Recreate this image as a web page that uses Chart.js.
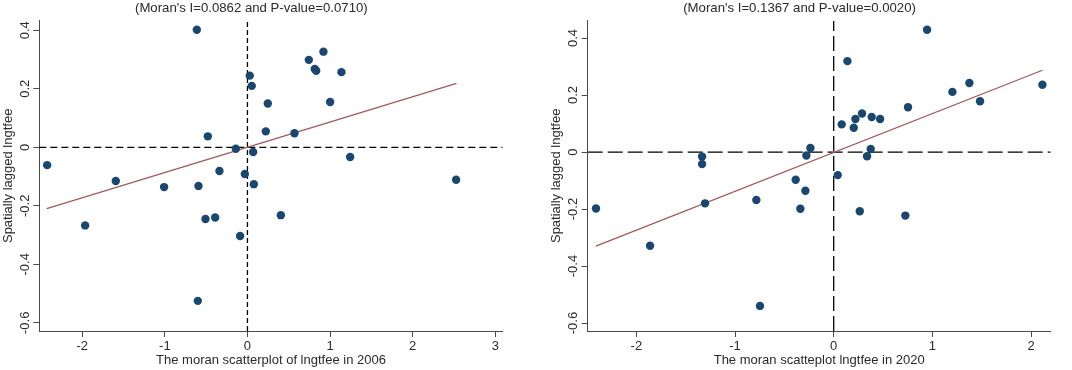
<!DOCTYPE html>
<html>
<head>
<meta charset="utf-8">
<script src="https://cdn.jsdelivr.net/npm/chart.js@4/dist/chart.umd.min.js"></script>
<style>
  html, body { margin: 0; padding: 0; background: #fff; }
  #wrap { position: relative; width: 1072px; height: 370px; }
  .box { position: absolute; top: 0; width: 536px; height: 370px; }
  #b1 { left: 0; }
  #b2 { left: 536px; }
</style>
</head>
<body>
<div id="wrap">
  <div class="box" id="b1"><canvas id="c1" width="536" height="370"></canvas></div>
  <div class="box" id="b2"><canvas id="c2" width="536" height="370"></canvas></div>
</div>
<script>
// ---------- Data: 2006 ----------
const x2006 = [-0.613, -2.425, -1.965, -1.594, -1.009, -0.593, -0.601, -0.508, -0.391, -0.480,
               -0.339, -0.141, -0.089, -0.032, 0.028, 0.052, 0.069, 0.077, 0.246, 0.222,
               0.404, 0.569, 0.743, 0.815, 0.832, 0.920, 1.001, 1.138, 1.243, 2.526];
const y2006 = [0.402, -0.061, -0.267, -0.115, -0.136, -0.132, -0.525, -0.245, -0.240, 0.0375,
               -0.081, -0.005, -0.303, -0.091, 0.245, 0.210, -0.016, -0.126, 0.150, 0.0545,
               -0.232, 0.048, 0.299, 0.268, 0.262, 0.327, 0.155, 0.257, -0.033, -0.111];
const fitX2006 = [-2.43, 2.53];
const fitY2006 = [-0.210, 0.219];

// ---------- Data: 2020 ----------
const x2020 = [-2.409, -1.861, -1.334, -1.334, -1.304, -0.784, -0.747, -0.385, -0.338, -0.287,
               -0.277, -0.236, 0.041, 0.081, 0.139, 0.203, 0.220, 0.264, 0.287, 0.338,
               0.375, 0.385, 0.470, 0.726, 0.753, 0.946, 1.203, 1.375, 1.483, 2.115];
const y2020 = [-0.198, -0.329, -0.016, -0.042, -0.180, -0.168, -0.540, -0.097, -0.199, -0.136,
               -0.012, 0.014, -0.081, 0.097, 0.319, 0.085, 0.116, -0.208, 0.135, -0.015,
               0.0105, 0.123, 0.116, -0.223, 0.157, 0.429, 0.211, 0.242, 0.178, 0.236];
const fitX2020 = [-2.41, 2.115];
const fitY2020 = [-0.330, 0.287];

// ---------- Text ----------
const title2006 = "(Moran's I=0.0862 and P-value=0.0710)";
const title2020 = "(Moran's I=0.1367 and P-value=0.0020)";
const xTitle2006 = "The moran scatterplot of lngtfee in 2006";
const xTitle2020 = "The moran scatteplot lngtfee in 2020";
const yTitle = "Spatially lagged lngtfee";

// ---------- Axis ranges / ticks ----------
const xRange2006 = [-2.52, 3.09];
const xTicks2006 = [-2, -1, 0, 1, 2, 3];
const xRange2020 = [-2.493, 2.199];
const xTicks2020 = [-2, -1, 0, 1, 2];
const yRange2006 = [-0.628, 0.433];
const yRange2020 = [-0.628, 0.461];
const yTicks = [-0.6, -0.4, -0.2, 0, 0.2, 0.4];

const FONT = "'Liberation Sans', Arial, sans-serif";
const POINT = '#1a476f';
const FIT = '#a0585f';
const TEXT = '#2a2a2a';

function pts(xs, ys) { return xs.map((x, i) => ({x: x, y: ys[i]})); }

function makeChart(id, cfg) {
  const ctx = document.getElementById(id);
  return new Chart(ctx, {
    type: 'scatter',
    data: {
      datasets: [
        {
          data: [{x: cfg.xr[0], y: 0}, {x: cfg.xr[1], y: 0}],
          showLine: true, borderColor: '#000', borderWidth: 1.3,
          borderDash: cfg.dash, pointRadius: 0, order: 3
        },
        {
          data: [{x: 0, y: cfg.yr[0]}, {x: 0, y: cfg.yr[1]}],
          showLine: true, borderColor: '#000', borderWidth: 1.3,
          borderDash: cfg.vdash, pointRadius: 0, order: 3
        },
        {
          data: pts(cfg.fx, cfg.fy),
          showLine: true, borderColor: FIT, borderWidth: 1.3,
          pointRadius: 0, order: 2
        },
        {
          data: pts(cfg.x, cfg.y),
          backgroundColor: POINT, borderColor: POINT, borderWidth: 0,
          pointRadius: 4.2, order: 1
        }
      ]
    },
    options: {
      responsive: false,
      animation: false,
      devicePixelRatio: 1,
      layout: { padding: { left: cfg.padLeft, right: cfg.padRight, top: 0, bottom: 0 } },
      plugins: {
        legend: { display: false },
        tooltip: { enabled: false },
        title: {
          display: true, text: cfg.title, color: TEXT,
          font: { family: FONT, size: 13.2, weight: 'normal', lineHeight: 1.3 },
          padding: { top: 0, bottom: 3.5 }
        }
      },
      scales: {
        x: {
          type: 'linear', min: cfg.xr[0], max: cfg.xr[1],
          afterBuildTicks: (s) => { s.ticks = cfg.xt.map(v => ({value: v})); },
          afterFit: (s) => { s.height = 39; },
          border: { display: true, color: '#4a4a4a', width: 1 },
          grid: { display: true, drawOnChartArea: false, drawTicks: true, tickLength: 6, color: '#4a4a4a' },
          ticks: { color: TEXT, font: { family: FONT, size: 13 }, padding: 2, maxRotation: 0, minRotation: 0,
                   callback: (v) => String(v) },
          title: { display: true, text: cfg.xTitle, color: TEXT,
                   font: { family: FONT, size: 13 }, padding: { top: 0, bottom: 2 } }
        },
        y: {
          type: 'linear', min: cfg.yr[0], max: cfg.yr[1],
          afterBuildTicks: (s) => { s.ticks = yTicks.map(v => ({value: v})); },
          afterFit: (s) => { s.width = cfg.yWidth; },
          border: { display: true, color: '#4a4a4a', width: 1 },
          grid: { display: true, drawOnChartArea: false, drawTicks: true, tickLength: 6, color: '#4a4a4a' },
          ticks: { color: TEXT, font: { family: FONT, size: 13 }, padding: -3,
                   minRotation: 90, maxRotation: 90, crossAlign: 'center',
                   callback: (v) => (v === 0 ? '0' : String(v)) },
          title: { display: true, text: yTitle, color: TEXT,
                   font: { family: FONT, size: 13 }, padding: 0.5 }
        }
      }
    }
  });
}

makeChart('c1', {
  x: x2006, y: y2006, fx: fitX2006, fy: fitY2006,
  xr: xRange2006, yr: yRange2006, xt: xTicks2006,
  title: title2006, xTitle: xTitle2006,
  dash: [7, 4], vdash: [5, 3],
  padLeft: 0, padRight: 33.3, yWidth: 39.3
});
makeChart('c2', {
  x: x2020, y: y2020, fx: fitX2020, fy: fitY2020,
  xr: xRange2020, yr: yRange2020, xt: xTicks2020,
  title: title2020, xTitle: xTitle2020,
  dash: [15, 5], vdash: [15, 5],
  padLeft: 12.4, padRight: 21.3, yWidth: 39.3
});
</script>
</body>
</html>
